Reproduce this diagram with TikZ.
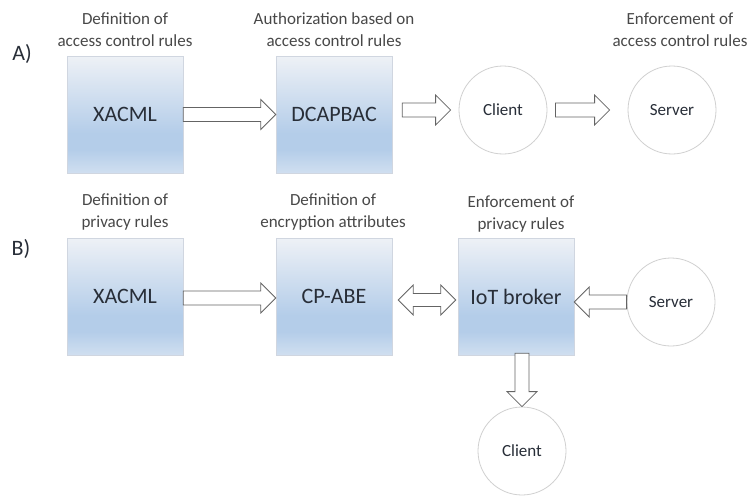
\documentclass[tikz,border=0pt]{standalone}
\usepackage{fontspec}
\setmainfont{Carlito}
\usetikzlibrary{calc}

\definecolor{boxtop}{RGB}{238,241,246}
\definecolor{boxmid}{RGB}{180,205,233}
\definecolor{boxbot}{RGB}{208,223,240}
\definecolor{boxline}{RGB}{208,214,224}
\definecolor{labeltext}{RGB}{72,72,72}
\definecolor{boxtext}{RGB}{40,46,56}
\definecolor{arrowline}{RGB}{100,100,100}
\definecolor{circleline}{RGB}{208,208,208}

% light at the top, blue towards the lower part, lighter again at the bottom
\pgfdeclareverticalshading{boxshade}{100bp}{color(0bp)=(boxbot); color(25bp)=(boxbot); color(35bp)=(boxmid); color(42bp)=(boxmid); color(75bp)=(boxtop); color(100bp)=(boxtop)}

\tikzset{
  stage/.style={rectangle, draw=boxline, line width=0.6pt, shading=boxshade,
    minimum width=116pt, minimum height=117pt, inner sep=0pt,
    font=\fontsize{22}{26}\selectfont, text=boxtext},
  party/.style={circle, draw=circleline, line width=0.8pt, fill=white,
    minimum size=88pt, inner sep=0pt,
    font=\fontsize{17}{20}\selectfont, text=boxtext},
  caption/.style={align=center, font=\fontsize{17}{22}\selectfont, text=labeltext},
  tag/.style={font=\fontsize{22}{26}\selectfont, text=boxtext},
  blockarrow/.style={draw=arrowline, fill=white, line width=0.8pt, line join=miter},
}

% hollow block arrow from #1 to #2
\newcommand\hollowarrow[2]{%
  \draw[blockarrow] let \p1=(#1), \p2=(#2),
      \n{ang}={atan2(\y2-\y1,\x2-\x1)}, \n{len}={veclen(\x2-\x1,\y2-\y1)} in
    [shift={(\p1)}, rotate=\n{ang}]
    (0pt,-7pt) -- ({\n{len}-15pt},-7pt) -- ({\n{len}-15pt},-15pt) -- ({\n{len}},0pt)
    -- ({\n{len}-15pt},15pt) -- ({\n{len}-15pt},7pt) -- (0pt,7pt) -- cycle;}

% hollow double-headed block arrow between #1 and #2
\newcommand\hollowdoublearrow[2]{%
  \draw[blockarrow] let \p1=(#1), \p2=(#2),
      \n{ang}={atan2(\y2-\y1,\x2-\x1)}, \n{len}={veclen(\x2-\x1,\y2-\y1)} in
    [shift={(\p1)}, rotate=\n{ang}]
    (0pt,0pt) -- (15pt,-15pt) -- (15pt,-6.5pt) -- ({\n{len}-15pt},-6.5pt) -- ({\n{len}-15pt},-15pt)
    -- ({\n{len}},0pt) -- ({\n{len}-15pt},15pt) -- ({\n{len}-15pt},6.5pt) -- (15pt,6.5pt)
    -- (15pt,15pt) -- cycle;}

\begin{document}
\begin{tikzpicture}[x=1pt, y=-1pt]
  \fill[white] (0,0) rectangle (751,495);
  \useasboundingbox (0,0) rectangle (751,495);

  % ---- A) access control ----
  \node[tag] (ta) at (22,54) {A)};
  \node[caption] (capa1) at (125,30) {Definition of\\access control rules};
  \node[caption] (capa2) at (334,30) {Authorization based on\\access control rules};
  \node[caption] (capa3) at (680,30) {Enforcement of\\access control rules};

  \node[stage] (xa) at (125,114.5) {XACML};
  \node[stage] (dc) at (334,114.5) {DCAPBAC};
  \node[party] (ca) at (503,110) {Client};
  \node[party] (sa) at (672,110) {Server};

  \hollowarrow{xa.east}{dc.west}
  \hollowarrow{$(dc.east |- ca.west)+(10,0)$}{$(ca.west)+(-8,0)$}
  \hollowarrow{$(ca.east)+(8,0)$}{$(sa.west)+(-18,0)$}

  % ---- B) privacy ----
  \node[tag] (tb) at (21,249) {B)};
  \node[caption] (capb1) at (125,212) {Definition of\\privacy rules};
  \node[caption] (capb2) at (333,212) {Definition of\\encryption attributes};
  \node[caption] (capb3) at (521,214) {Enforcement of\\privacy rules};

  \node[stage] (xb) at (125,296.5) {XACML};
  \node[stage] (cp) at (334,296.5) {CP-ABE};
  \node[stage] (io) at (516,296.5) {IoT broker};
  \node[party] (sb) at (671,302) {Server};
  \node[party] (cb) at (522,451) {Client};

  \hollowarrow{$(xb.east)+(0,1.5)$}{$(cp.west)+(0,1.5)$}
  \hollowdoublearrow{$(cp.east)+(6,3.5)$}{$(io.west)+(-2,3.5)$}
  \hollowarrow{sb.west}{io.east |- sb.west}
  \hollowarrow{$(io.south -| cb.north)+(0,-2)$}{cb.north}
\end{tikzpicture}
\end{document}
